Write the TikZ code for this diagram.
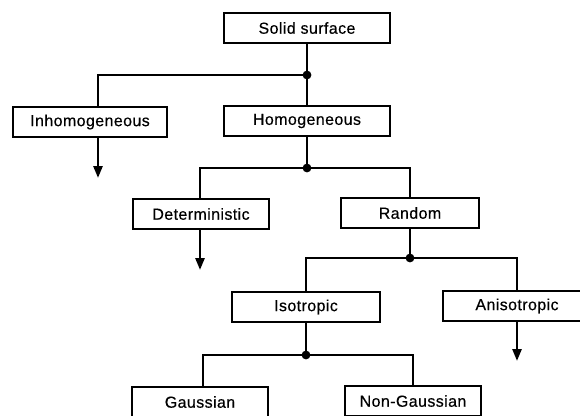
\documentclass[tikz,border=0pt]{standalone}
\usepackage{fontspec}
\setmainfont{Liberation Sans}[LetterSpace=2.5, FakeBold=0.4]
\usetikzlibrary{arrows.meta}
\begin{document}
\begin{tikzpicture}[x=1pt,y=-1pt,
  box/.style={draw, line width=1.3pt, rectangle, minimum height=30pt,
    inner sep=0pt, font=\fontsize{16}{19}\selectfont},
  conn/.style={line width=2.6pt},
  arr/.style={line width=2.6pt, -{Triangle[length=12pt,width=9pt]}},
  junction/.style={fill, radius=4.4pt}]
  \useasboundingbox (0,0) rectangle (580,415);
  \clip (0,0) rectangle (580,415);

  % classification boxes
  \node[box, minimum width=166pt] (solid)  at (307,28)  {Solid surface};
  \node[box, minimum width=154pt] (inhom)  at (90,122)  {Inhomogeneous};
  \node[box, minimum width=166pt] (homog)  at (307,121) {Homogeneous};
  \node[box, minimum width=136pt] (determ) at (201,214) {Deterministic};
  \node[box, minimum width=138pt] (random) at (410,213) {Random};
  \node[box, minimum width=148pt] (iso)    at (306,307) {Isotropic};
  \node[box, minimum width=148pt] (aniso)  at (517,306) {Anisotropic};
  \node[box, minimum width=136pt] (gauss)  at (200,402) {Gaussian};
  \node[box, minimum width=136pt] (ngauss) at (413,401) {Non-Gaussian};

  % branch points and open ends
  \coordinate (d1) at (307,75);
  \coordinate (d2) at (307,168);
  \coordinate (d3) at (410,258);
  \coordinate (d4) at (306,355);
  \coordinate (e1) at (98,178);
  \coordinate (e2) at (200,270);
  \coordinate (e3) at (517,361);

  % tree connectors
  \draw[conn] (solid.south) -- (homog.north);
  \draw[conn] (d1) -| (inhom.north -| e1);
  \draw[arr]  (inhom.south -| e1) -- (e1);

  \draw[conn] (homog.south) -- (d2);
  \draw[conn] (d2) -| (determ.north -| e2);
  \draw[conn] (d2) -| (random.north);
  \draw[arr]  (determ.south -| e2) -- (e2);

  \draw[conn] (random.south) -- (d3);
  \draw[conn] (d3) -| (iso.north);
  \draw[conn] (d3) -| (aniso.north);
  \draw[arr]  (aniso.south) -- (e3);

  \draw[conn] (iso.south) -- (d4);
  \draw[conn] (d4) -| ([xshift=3pt]gauss.north);
  \draw[conn] (d4) -| (ngauss.north);

  \foreach \d in {d1,d2,d3,d4} \fill[junction] (\d) circle;
\end{tikzpicture}
\end{document}
